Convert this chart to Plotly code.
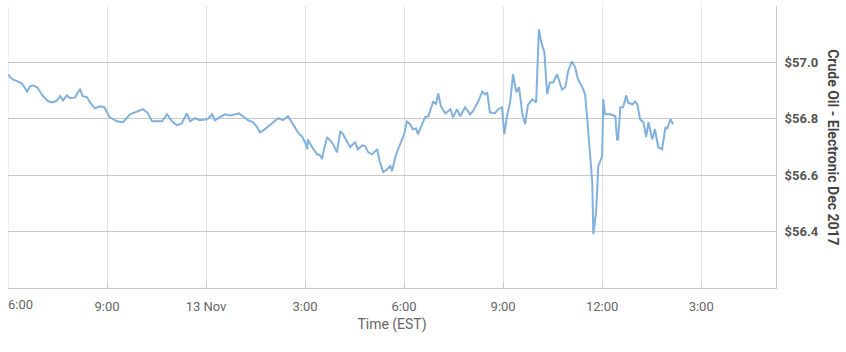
import plotly.graph_objects as go

times = [
"2017-11-12 18:00","2017-11-12 18:04","2017-11-12 18:09","2017-11-12 18:16","2017-11-12 18:25","2017-11-12 18:35",
"2017-11-12 18:40","2017-11-12 18:45","2017-11-12 18:53","2017-11-12 18:58","2017-11-12 19:04","2017-11-12 19:13",
"2017-11-12 19:22","2017-11-12 19:29","2017-11-12 19:35","2017-11-12 19:40","2017-11-12 19:47","2017-11-12 19:53",
"2017-11-12 20:02","2017-11-12 20:07","2017-11-12 20:11","2017-11-12 20:16","2017-11-12 20:24","2017-11-12 20:29",
"2017-11-12 20:38","2017-11-12 20:47","2017-11-12 20:55","2017-11-12 21:00","2017-11-12 21:05","2017-11-12 21:18",
"2017-11-12 21:29","2017-11-12 21:42","2017-11-12 21:55","2017-11-12 22:05","2017-11-12 22:13","2017-11-12 22:22",
"2017-11-12 22:31","2017-11-12 22:40","2017-11-12 22:49","2017-11-12 22:58","2017-11-12 23:07","2017-11-12 23:16",
"2017-11-12 23:25","2017-11-12 23:31","2017-11-12 23:40","2017-11-12 23:49","2017-11-13 00:02","2017-11-13 00:11",
"2017-11-13 00:16","2017-11-13 00:25","2017-11-13 00:34","2017-11-13 00:44","2017-11-13 00:53","2017-11-13 01:00",
"2017-11-13 01:07","2017-11-13 01:16","2017-11-13 01:25","2017-11-13 01:33","2017-11-13 01:38","2017-11-13 01:44",
"2017-11-13 01:53","2017-11-13 02:02","2017-11-13 02:11","2017-11-13 02:20","2017-11-13 02:29","2017-11-13 02:36",
"2017-11-13 02:42","2017-11-13 02:47","2017-11-13 02:55","2017-11-13 03:00","2017-11-13 03:04","2017-11-13 03:05",
"2017-11-13 03:13","2017-11-13 03:22","2017-11-13 03:27","2017-11-13 03:31","2017-11-13 03:33","2017-11-13 03:40",
"2017-11-13 03:45","2017-11-13 03:51","2017-11-13 03:58","2017-11-13 04:04","2017-11-13 04:09","2017-11-13 04:16",
"2017-11-13 04:22","2017-11-13 04:27","2017-11-13 04:31","2017-11-13 04:36","2017-11-13 04:44","2017-11-13 04:49",
"2017-11-13 04:55","2017-11-13 05:02","2017-11-13 05:11","2017-11-13 05:16","2017-11-13 05:22","2017-11-13 05:29",
"2017-11-13 05:35","2017-11-13 05:38","2017-11-13 05:44","2017-11-13 05:49","2017-11-13 05:56","2017-11-13 06:00",
"2017-11-13 06:05","2017-11-13 06:11","2017-11-13 06:16","2017-11-13 06:22","2017-11-13 06:25","2017-11-13 06:33",
"2017-11-13 06:38","2017-11-13 06:44","2017-11-13 06:47","2017-11-13 06:53","2017-11-13 06:58","2017-11-13 07:02",
"2017-11-13 07:07","2017-11-13 07:15","2017-11-13 07:24","2017-11-13 07:29","2017-11-13 07:36","2017-11-13 07:42",
"2017-11-13 07:51","2017-11-13 08:00","2017-11-13 08:05","2017-11-13 08:15","2017-11-13 08:22","2017-11-13 08:27",
"2017-11-13 08:31","2017-11-13 08:36","2017-11-13 08:45","2017-11-13 08:51","2017-11-13 08:58","2017-11-13 09:02",
"2017-11-13 09:07","2017-11-13 09:13","2017-11-13 09:18","2017-11-13 09:24","2017-11-13 09:29","2017-11-13 09:35",
"2017-11-13 09:40","2017-11-13 09:45","2017-11-13 09:53","2017-11-13 10:00","2017-11-13 10:05","2017-11-13 10:09",
"2017-11-13 10:15","2017-11-13 10:20","2017-11-13 10:25","2017-11-13 10:31","2017-11-13 10:38","2017-11-13 10:47",
"2017-11-13 10:53","2017-11-13 10:58","2017-11-13 11:05","2017-11-13 11:11","2017-11-13 11:16","2017-11-13 11:24",
"2017-11-13 11:29","2017-11-13 11:33","2017-11-13 11:34","2017-11-13 11:42","2017-11-13 11:44","2017-11-13 11:49",
"2017-11-13 11:53","2017-11-13 12:00","2017-11-13 12:02","2017-11-13 12:05","2017-11-13 12:15","2017-11-13 12:24",
"2017-11-13 12:27","2017-11-13 12:29","2017-11-13 12:33","2017-11-13 12:38","2017-11-13 12:44","2017-11-13 12:47",
"2017-11-13 12:55","2017-11-13 13:00","2017-11-13 13:04","2017-11-13 13:09","2017-11-13 13:15","2017-11-13 13:20",
"2017-11-13 13:24","2017-11-13 13:31","2017-11-13 13:36","2017-11-13 13:42","2017-11-13 13:49","2017-11-13 13:55",
"2017-11-13 13:58","2017-11-13 14:04","2017-11-13 14:09",
]

prices = [
56.958,56.947,56.940,56.933,56.926,56.897,
56.915,56.919,56.912,56.897,56.880,56.862,
56.858,56.865,56.880,56.865,56.883,56.873,
56.876,56.894,56.904,56.880,56.876,56.858,
56.837,56.844,56.841,56.823,56.805,56.791,
56.788,56.816,56.827,56.834,56.823,56.791,
56.791,56.791,56.816,56.791,56.777,56.784,
56.819,56.791,56.802,56.795,56.798,56.816,
56.795,56.805,56.816,56.812,56.816,56.819,
56.809,56.795,56.788,56.770,56.752,56.759,
56.773,56.788,56.802,56.795,56.809,56.788,
56.770,56.752,56.735,56.717,56.692,56.727,
56.699,56.674,56.671,56.657,56.681,56.735,
56.724,56.710,56.681,56.756,56.745,56.720,
56.699,56.710,56.717,56.692,56.706,56.703,
56.681,56.674,56.692,56.646,56.611,56.621,
56.632,56.614,56.664,56.692,56.727,56.745,
56.791,56.781,56.763,56.766,56.745,56.781,
56.805,56.809,56.827,56.862,56.851,56.890,
56.844,56.819,56.834,56.805,56.834,56.809,
56.841,56.816,56.827,56.862,56.897,56.887,
56.894,56.823,56.819,56.834,56.841,56.745,
56.809,56.862,56.958,56.894,56.912,56.816,
56.781,56.848,56.869,56.858,57.117,57.074,
57.035,56.887,56.929,56.929,56.958,56.904,
56.912,56.968,57.004,56.982,56.940,56.912,
56.887,56.805,56.773,56.575,56.391,56.469,
56.632,56.667,56.869,56.816,56.816,56.809,
56.727,56.727,56.841,56.841,56.883,56.858,
56.851,56.862,56.851,56.798,56.788,56.735,
56.788,56.727,56.763,56.699,56.692,56.770,
56.763,56.798,56.781,
]

tick_vals = ["2017-11-12 18:00","2017-11-12 21:00","2017-11-13 00:00","2017-11-13 03:00",
             "2017-11-13 06:00","2017-11-13 09:00","2017-11-13 12:00","2017-11-13 15:00"]
tick_text = ["6:00","9:00","13 Nov","3:00","6:00","9:00","12:00","3:00"]

y_vals = [56.2, 56.4, 56.6, 56.8, 57.0, 57.2]
y_text = ["", "$56.4", "$56.6", "$56.8", "$57.0", ""]

fig = go.Figure()
fig.add_trace(go.Scatter(x=times, y=prices, mode="lines",
                         line=dict(color="#82b1de", width=2), hoverinfo="x+y"))

fig.update_layout(
    width=846, height=352,
    margin=dict(l=8, r=70, t=6, b=64),
    paper_bgcolor="white", plot_bgcolor="white",
    showlegend=False,
    font=dict(family="Roboto, sans-serif", size=12, color="#666666"),
    xaxis=dict(
        type="date",
        range=["2017-11-12 18:00", "2017-11-13 17:16"],
        tickvals=tick_vals[1:], ticktext=tick_text[1:],
        showgrid=True, gridcolor="#e3e3e3", gridwidth=1,
        showline=True, linecolor="#c8c8c8", linewidth=1,
        ticks="inside", ticklen=6, tickcolor="#c8c8c8",
        ticklabelstandoff=6,
        tickfont=dict(size=13, color="#666666"),
        title=dict(text="Time (EST)", font=dict(size=14, color="#666666"), standoff=6),
        zeroline=False, fixedrange=True,
    ),
    yaxis=dict(
        side="right",
        range=[56.2, 57.2],
        tickvals=y_vals, ticktext=y_text,
        showgrid=True, gridcolor="#c8c8c8", gridwidth=1,
        showline=True, linecolor="#c8c8c8", linewidth=1,
        ticks="", ticklabelstandoff=5,
        tickfont=dict(size=13, color="#555555", weight="bold"),
        zeroline=False, fixedrange=True,
    ),
    annotations=[
        dict(
            text="<b>Crude Oil - Electronic Dec 2017</b>",
            xref="paper", yref="paper", x=1.074, y=0.5,
            xanchor="center", yanchor="middle", textangle=90, showarrow=False,
            font=dict(size=14, color="#444444", family="Roboto, sans-serif"),
        ),
        dict(
            text=tick_text[0],
            xref="x", yref="paper", x=tick_vals[0], y=0,
            xanchor="left", yanchor="top", yshift=-7, xshift=-2, showarrow=False,
            font=dict(size=13, color="#666666", family="Roboto, sans-serif"),
        ),
    ],
)
fig.add_vline(x=tick_vals[0], line=dict(color="#e3e3e3", width=1), layer="below")

fig.write_html("out.html")
